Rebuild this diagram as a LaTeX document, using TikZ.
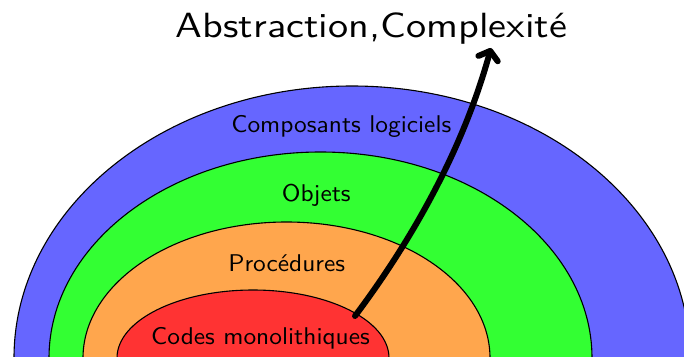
\documentclass[tikz,border=0pt]{standalone}
\usepackage{graphicx}
\usetikzlibrary{arrows.meta}
\definecolor{cblue}{HTML}{6666FF}
\definecolor{cgreen}{HTML}{33FF33}
\definecolor{corange}{HTML}{FFA64D}
\definecolor{cred}{HTML}{FF3333}
\newcommand{\lbltext}[1]{\scalebox{2.54}[2.42]{\sffamily\fontsize{10}{12}\selectfont #1}}
\newcommand{\ttltext}[1]{\scalebox{4.02}[3.5]{\sffamily\fontsize{10}{12}\selectfont #1}}
\begin{document}
\begin{tikzpicture}[x=1pt,y=-1pt,
  ring/.style={draw=black,line width=1.1pt},
  lab/.style={inner sep=0pt,anchor=base}]
\useasboundingbox (0,0) rectangle (684,356);
\begin{scope}
\clip (0,0) rectangle (684,356);
\draw[ring,fill=cblue] (352,358) ellipse [x radius=338, y radius=272];
\draw[ring,fill=cgreen] (320.5,358) ellipse [x radius=271.5, y radius=206];
\draw[ring,fill=corange] (286.5,358) ellipse [x radius=203.5, y radius=136];
\draw[ring,fill=cred] (253,358) ellipse [x radius=136, y radius=68];
\end{scope}
\node[lab] (l1) at (341.3,132.3) {\lbltext{Composants logiciels}};
\node[lab] (l2) at (316.3,201.3) {\lbltext{Objets}};
\node[lab] (l3) at (286.7,271.7) {\lbltext{Procédures}};
\node[lab] (l4) at (260.5,344.5) {\lbltext{Codes monolithiques}};
\node[lab] (t) at (371.5,37.3) {\ttltext{Abstraction,Complexité}};
\coordinate (s) at (355,316);
\coordinate (e) at (491,48);
\draw[line width=6pt,line cap=round,-{Straight Barb[round,length=8pt,width=20pt]}] (s) .. controls (415,236) and (464,146) .. (e);
\end{tikzpicture}
\end{document}
